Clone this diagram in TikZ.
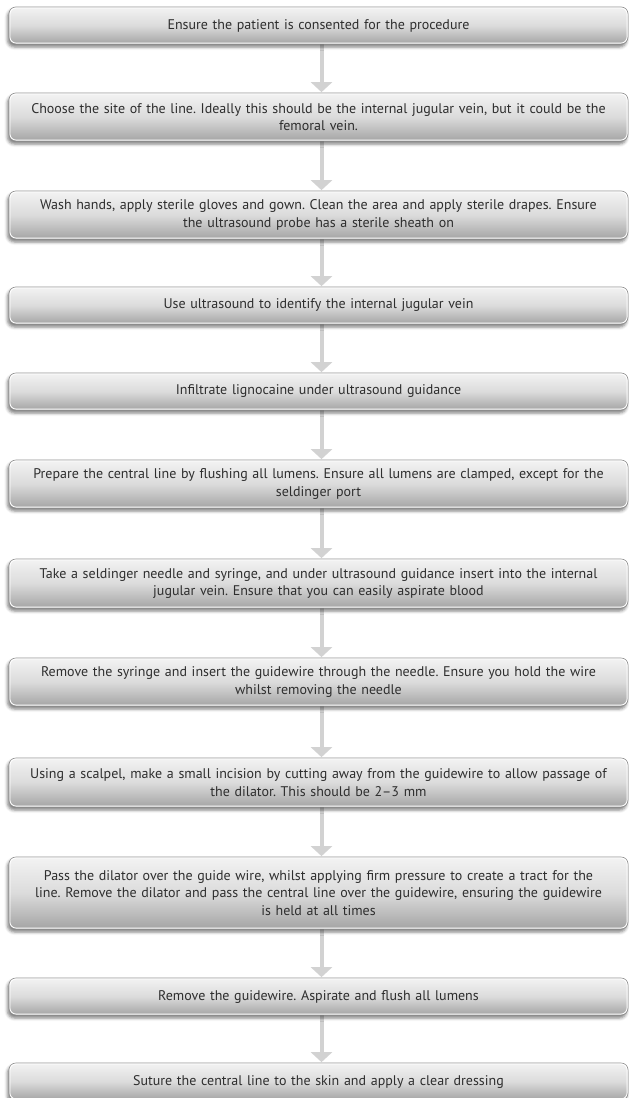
\documentclass[tikz,border=0pt]{standalone}
\usepackage{fontspec}
\setmainfont{PT Sans}
\frenchspacing
\usetikzlibrary{arrows.meta,shadows.blur,backgrounds}
\definecolor{txtc}{HTML}{2E2E2E}
\definecolor{arrc}{HTML}{D2D2D2}
\definecolor{boxtop}{HTML}{F3F3F3}
\definecolor{boxbot}{HTML}{A4A4A4}
\definecolor{boxedge}{HTML}{8A8A8A}
\tikzset{
  stepbox/.style={rectangle, rounded corners=7pt, draw=boxedge, line width=0.7pt,
    top color=boxtop, bottom color=boxbot, middle color=boxtop!70!boxbot,
    minimum width=619pt, text width=610pt, align=center, inner sep=0pt,
    text=txtc, font=\fontsize{14}{17.5}\selectfont,
    blur shadow={shadow xshift=-1.5pt, shadow yshift=-3pt, shadow blur radius=3pt, shadow opacity=50}},
  hilite/.style={draw=white, line width=0.9pt, rounded corners=6pt},
  flowarrow/.style={draw=arrc, line width=4pt, -{Triangle[width=21pt,length=10pt]}}
}
\begin{document}
\begin{tikzpicture}[x=1pt,y=-1pt]
\useasboundingbox (0,0) rectangle (629,1098);
\node[stepbox, minimum height=37pt] (b1) at (318.5,25.5) {Ensure the patient is consented for the procedure};
\node[stepbox, minimum height=48pt] (b2) at (318.5,117) {Choose the site of the line. Ideally this should be the internal jugular vein, but it could be the\\ femoral vein.};
\node[stepbox, minimum height=48pt] (b3) at (318.5,215) {Wash hands, apply sterile gloves and gown. Clean the area and apply sterile drapes. Ensure\\ the ultrasound probe has a sterile sheath on};
\node[stepbox, minimum height=37pt] (b4) at (318.5,305.5) {Use ultrasound to identify the internal jugular vein};
\node[stepbox, minimum height=37pt] (b5) at (318.5,391.5) {Infiltrate lignocaine under ultrasound guidance};
\node[stepbox, minimum height=48pt] (b6) at (318.5,484) {Prepare the central line by flushing all lumens. Ensure all lumens are clamped, except for the\\ seldinger port};
\node[stepbox, minimum height=49pt] (b7) at (318.5,583.5) {Take a seldinger needle and syringe, and under ultrasound guidance insert into the internal\\ jugular vein. Ensure that you can easily aspirate blood};
\node[stepbox, minimum height=48pt] (b8) at (318.5,682) {Remove the syringe and insert the guidewire through the needle. Ensure you hold the wire\\ whilst removing the needle};
\node[stepbox, minimum height=49pt] (b9) at (318.5,782.5) {Using a scalpel, make a small incision by cutting away from the guidewire to allow passage of\\ the dilator. This should be 2--3 mm};
\node[stepbox, minimum height=72pt] (b10) at (318.5,893) {Pass the dilator over the guide wire, whilst applying firm pressure to create a tract for the\\ line. Remove the dilator and pass the central line over the guidewire, ensuring the guidewire\\ is held at all times};
\node[stepbox, minimum height=37pt] (b11) at (318.5,996.5) {Remove the guidewire. Aspirate and flush all lumens};
\node[stepbox, minimum height=37pt] (b12) at (318.5,1081.5) {Suture the central line to the skin and apply a clear dressing};
\foreach \n in {1,...,12}{
  \draw[hilite] ([shift={(1.3pt,1.3pt)}]b\n.south west) rectangle ([shift={(-1.3pt,-1.3pt)}]b\n.north east);
}
\begin{pgfonlayer}{background}
\foreach \a/\b in {1/2,2/3,3/4,4/5,5/6,6/7,7/8,8/9,9/10,10/11,11/12}{
  \draw[flowarrow] ([xshift=3pt]b\a.south) -- ([xshift=3pt,yshift=0.5pt]b\b.north);
}
\end{pgfonlayer}
\end{tikzpicture}
\end{document}
